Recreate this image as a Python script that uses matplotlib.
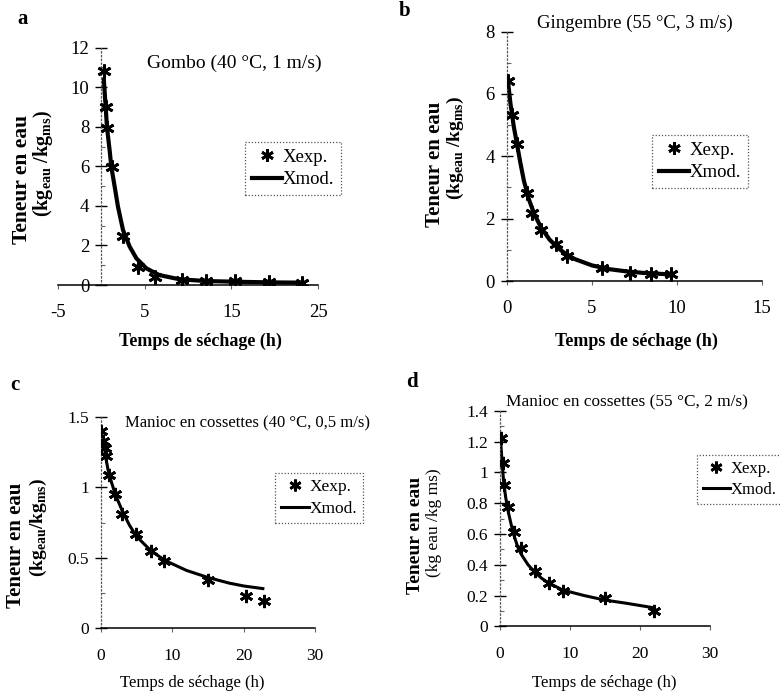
import numpy as np
import matplotlib.pyplot as plt
from matplotlib.lines import Line2D
from matplotlib.ticker import MultipleLocator, FixedLocator

plt.rcParams['font.family'] = 'Liberation Serif'
plt.rcParams['mathtext.fontset'] = 'custom'
plt.rcParams['mathtext.rm'] = 'Liberation Serif'
plt.rcParams['mathtext.bf'] = 'Liberation Serif:bold'
plt.rcParams['axes.unicode_minus'] = False

W, H = 780, 691

# a - Gombo (40 °C, 1 m/s)
t_exp_a = [0.3, 0.5, 0.7, 1.2, 2.5, 4.2, 6.2, 9.3, 12.1, 15.4, 19.3, 23.1]
X_exp_a = [10.8, 9.0, 7.95, 5.95, 2.5, 0.9, 0.4, 0.25, 0.2, 0.18, 0.15, 0.12]
t_mod_a = [0.27, 0.5, 0.65, 0.96, 1.15, 1.54, 1.92, 2.5, 3.27, 4.04, 5.2, 6.7, 9.0, 12.1, 16, 20, 23]
X_mod_a = [10.5, 9.0, 7.98, 6.8, 5.98, 4.97, 3.96, 2.78, 1.94, 1.35, 0.84, 0.5, 0.29, 0.2, 0.16, 0.13, 0.12]

# b - Gingembre (55 °C, 3 m/s)
t_exp_b = [0.08, 0.28, 0.57, 1.16, 1.49, 2.0, 2.88, 3.55, 5.57, 7.24, 8.47, 9.65]
X_exp_b = [6.4, 5.33, 4.4, 2.83, 2.19, 1.65, 1.18, 0.79, 0.42, 0.27, 0.24, 0.21]
t_mod_b = [0.08, 0.2, 0.4, 0.6, 0.8, 1.0, 1.3, 1.6, 2.0, 2.5, 3.0, 3.5, 4.0, 5.0, 6.0, 7.0, 8.0, 9.0, 9.7]
X_mod_b = [6.3, 5.7, 4.95, 4.35, 3.75, 3.2, 2.6, 2.15, 1.72, 1.33, 1.06, 0.85, 0.7, 0.5, 0.38, 0.31, 0.26, 0.23, 0.21]

# c - Manioc en cossettes (40 °C, 0,5 m/s)
t_exp_c = [0.0, 0.25, 0.5, 0.75, 1.1, 2.0, 3.0, 4.9, 7.0, 8.9, 15.0, 20.3, 22.8]
X_exp_c = [1.40, 1.33, 1.28, 1.22, 1.09, 0.95, 0.81, 0.67, 0.55, 0.48, 0.34, 0.23, 0.19]
t_mod_c = [0.56, 1.0, 1.5, 2.0, 3.0, 4.0, 5.0, 6.0, 7.0, 9.0, 12.0, 15.0, 18.0, 20.0, 22.9]
X_mod_c = [1.24, 1.12, 1.03, 0.95, 0.83, 0.73, 0.65, 0.6, 0.55, 0.48, 0.41, 0.36, 0.32, 0.3, 0.28]

# d - Manioc en cossettes (55 °C, 2 m/s)
t_exp_d = [0.1, 0.38, 0.57, 1.2, 2.0, 2.95, 5.0, 7.05, 8.95, 15.0, 22.0]
X_exp_d = [1.22, 1.06, 0.92, 0.775, 0.61, 0.51, 0.356, 0.28, 0.226, 0.183, 0.10]
t_mod_d = [0.1, 0.3, 0.5, 0.8, 1.2, 1.6, 2.0, 2.5, 3.0, 4.0, 5.0, 6.0, 7.0, 9.0, 12.0, 15.0, 18.0, 22.0]
X_mod_d = [1.2, 1.06, 0.95, 0.84, 0.74, 0.66, 0.59, 0.52, 0.47, 0.4, 0.35, 0.31, 0.28, 0.235, 0.2, 0.17, 0.15, 0.12]

STAR = (6, 2, 0)


def px_axes(fig, x0, y0, x1, y1):
    return fig.add_axes([x0 / W, 1 - y1 / H, (x1 - x0) / W, (y1 - y0) / H])


def ftext(fig, x, y, s, **kw):
    return fig.text(x / W, 1 - y / H, s, ha='center', va='center', **kw)


def panel(fig, rect, t_exp, X_exp, t_mod, X_mod, xlim, xticks, ylim, ystep, yminor,
          lw, leg_xy, tfs, lfs, ms):
    ax = px_axes(fig, *rect)
    ax.plot(t_mod, X_mod, color='black', lw=lw, solid_capstyle='butt', zorder=2)
    ax.plot(t_exp, X_exp, ls='none', marker=STAR, ms=ms, mew=2.0, color='black', zorder=3)
    ax.set_xlim(*xlim)
    ax.set_ylim(*ylim)
    ax.spines['top'].set_visible(False)
    ax.spines['right'].set_visible(False)
    ax.spines['left'].set_position(('data', 0))
    ax.spines['left'].set_linestyle((0, (1, 2)))
    ax.spines['left'].set_color('#555555')
    ax.spines['left'].set_linewidth(0.9)
    ax.spines['bottom'].set_linewidth(1.1)
    ax.xaxis.set_major_locator(FixedLocator(xticks))
    ax.yaxis.set_major_locator(MultipleLocator(ystep))
    ax.yaxis.set_minor_locator(MultipleLocator(yminor))
    ax.yaxis.set_major_formatter(lambda v, p: f'{v:g}')
    ax.tick_params(axis='y', which='major', direction='inout', length=8.5, width=1.0,
                   pad=4.5, labelsize=tfs)
    ax.tick_params(axis='y', which='minor', direction='in', length=3, width=0.8, color='#666666')
    ax.tick_params(axis='x', which='major', direction='out', length=3, width=0.8,
                   color='#666666', pad=11, labelsize=tfs)
    handles = [Line2D([], [], ls='none', marker=STAR, ms=ms - 1, mew=2.0, color='black'),
               Line2D([], [], color='black', lw=lw)]
    leg = fig.legend(handles, ['Xexp.', 'Xmod.'], loc='upper left',
                     bbox_to_anchor=(leg_xy[0] / W, 1 - leg_xy[1] / H),
                     fontsize=lfs, frameon=True, fancybox=False, framealpha=1,
                     edgecolor='#555555', borderpad=0.35, labelspacing=0.3,
                     handlelength=1.6, handletextpad=0.05, borderaxespad=0)
    leg.get_frame().set_linestyle((0, (1, 1.5)))
    leg.get_frame().set_linewidth(0.9)
    return ax


fig = plt.figure(figsize=(W / 100, H / 100), dpi=100)

panel(fig, (58, 47.7, 318, 285), t_exp_a, X_exp_a, t_mod_a, X_mod_a,
      (-5, 25), [-5, 5, 15, 25], (0, 12), 2, 1, 3.0, (245, 142), 13.5, 13.5, 10)
panel(fig, (507, 31.5, 762, 281), t_exp_b, X_exp_b, t_mod_b, X_mod_b,
      (0, 15), [0, 5, 10, 15], (0, 8), 2, 1, 3.0, (652, 135), 13.5, 13.5, 10)
panel(fig, (101, 416.7, 315, 628.3), t_exp_c, X_exp_c, t_mod_c, X_mod_c,
      (0, 30), [0, 10, 20, 30], (0, 1.5), 0.5, 0.25, 2.2, (275, 473), 12.5, 12.5, 9.5)
panel(fig, (500, 410.7, 710, 626.3), t_exp_d, X_exp_d, t_mod_d, X_mod_d,
      (0, 30), [0, 10, 20, 30], (0, 1.4), 0.2, 0.1, 2.2, (697, 455), 12.5, 12, 9.5)

# panel letters
ftext(fig, 23, 19, 'a', fontsize=15, fontweight='bold')
ftext(fig, 405, 11, 'b', fontsize=15, fontweight='bold')
ftext(fig, 15, 385, 'c', fontsize=15, fontweight='bold')
ftext(fig, 412, 382, 'd', fontsize=15, fontweight='bold')

# in-plot titles
ftext(fig, 234, 63, 'Gombo (40 °C, 1 m/s)', fontsize=14)
ftext(fig, 635, 23, 'Gingembre (55 °C, 3 m/s)', fontsize=13.5)
ftext(fig, 248, 423, 'Manioc en cossettes (40 °C, 0,5 m/s)', fontsize=12)
ftext(fig, 627, 402, 'Manioc en cossettes (55 °C, 2 m/s)', fontsize=12.4)

# x labels
ftext(fig, 200, 341, 'Temps de séchage (h)', fontsize=13, fontweight='bold')
ftext(fig, 636, 341, 'Temps de séchage (h)', fontsize=13, fontweight='bold')
ftext(fig, 192, 683, 'Temps de séchage (h)', fontsize=12)
ftext(fig, 604, 683, 'Temps de séchage (h)', fontsize=12)

# y labels (two lines)
sub_lab = r'(kg$_{\mathbf{eau}}$ /kg$_{\mathbf{ms}}$)'
ftext(fig, 22, 180, 'Teneur en eau', fontsize=15.5, fontweight='bold', rotation=90)
ftext(fig, 43, 163, sub_lab, fontsize=14.5, fontweight='bold', rotation=90)
ftext(fig, 435, 164, 'Teneur en eau', fontsize=15, fontweight='bold', rotation=90)
ftext(fig, 455, 148, sub_lab, fontsize=14, fontweight='bold', rotation=90)
ftext(fig, 16, 545, 'Teneur en eau', fontsize=15, fontweight='bold', rotation=90)
ftext(fig, 38, 527, r'(kg$_{\mathbf{eau}}$/kg$_{\mathbf{ms}}$)', fontsize=14,
      fontweight='bold', rotation=90)
ftext(fig, 415, 535, 'Teneur en eau', fontsize=14, fontweight='bold', rotation=90)
ftext(fig, 434, 523, '(kg eau /kg ms)', fontsize=12.5, rotation=90)

fig.savefig('out.png', dpi=100)
